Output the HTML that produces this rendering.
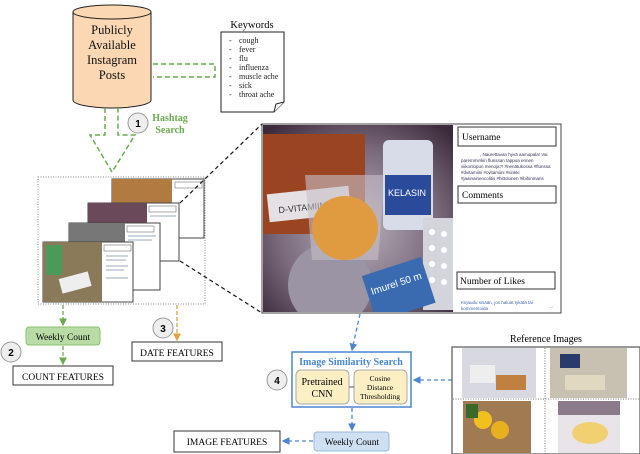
<!DOCTYPE html>
<html><head><meta charset="utf-8"><style>
html,body{margin:0;padding:0;background:#fff;}
svg{display:block;font-family:"Liberation Serif",serif;}
.s{font-family:"Liberation Sans",sans-serif;}
</style></head><body>
<svg width="640" height="454" viewBox="0 0 640 454" xmlns="http://www.w3.org/2000/svg">
<defs>
<radialGradient id="ph" cx="0.5" cy="0.55" r="0.7"><stop offset="0" stop-color="#b8b0bc"/><stop offset="0.6" stop-color="#7a6a7c"/><stop offset="1" stop-color="#3a2a3a"/></radialGradient>
<clipPath id="pc"><rect x="263" y="125" width="190" height="187"/></clipPath>
<marker id="ag" markerWidth="6" markerHeight="6" refX="5" refY="3" orient="auto"><path d="M0,0L6,3L0,6z" fill="#6aaa50"/></marker>
<marker id="ao" markerWidth="6" markerHeight="6" refX="5" refY="3" orient="auto"><path d="M0,0L6,3L0,6z" fill="#e0a040"/></marker>
<marker id="ab" markerWidth="6" markerHeight="6" refX="5" refY="3" orient="auto"><path d="M0,0L6,3L0,6z" fill="#4a86d0"/></marker>
</defs>
<!-- cylinder -->
<path d="M73,12 L73,100 A39,8 0 0 0 151,100 L151,12" fill="#fbd7b3" stroke="#222" stroke-width="1"/>
<ellipse cx="112" cy="12" rx="39" ry="7" fill="#fbd7b3" stroke="#222"/>
<g font-size="12.5" text-anchor="middle" fill="#111">
<text x="112" y="34">Publicly</text><text x="112" y="49">Available</text><text x="112" y="64">Instagram</text><text x="112" y="79">Posts</text></g>
<!-- keywords -->
<text x="252" y="28" font-size="10.5" text-anchor="middle">Keywords</text>
<path d="M221,32 L284,32 L284,102 L274,112 L221,112 Z" fill="#fff" stroke="#222"/>
<path d="M274,112 L276,104 L284,102" fill="#fff" stroke="#222"/>
<g font-size="8" fill="#222"><text x="229" y="43">-</text><text x="239" y="43">cough</text>
<text x="229" y="52">-</text><text x="239" y="52">fever</text>
<text x="229" y="61">-</text><text x="239" y="61">flu</text>
<text x="229" y="70">-</text><text x="239" y="70">influenza</text>
<text x="229" y="79">-</text><text x="239" y="79">muscle ache</text>
<text x="229" y="88">-</text><text x="239" y="88">sick</text>
<text x="229" y="97">-</text><text x="239" y="97">throat ache</text></g>
<!-- green dashed -->
<g stroke="#6aaa50" stroke-width="1.5" stroke-dasharray="5,3" fill="none">
<path d="M153,64 L215,64 L215,77 L153,77"/>
<path d="M105,108 L105,135 L90,135 L112,172 L135,135 L118,135 L118,108"/>
</g>
<circle cx="138" cy="123" r="10" fill="#eee" stroke="#999"/>
<text x="138" y="127" font-size="10" font-weight="bold" text-anchor="middle" class="s">1</text>
<text x="170" y="121" font-size="10" font-weight="bold" fill="#6aaa50" text-anchor="middle">Hashtag</text>
<text x="170" y="133" font-size="10" font-weight="bold" fill="#6aaa50" text-anchor="middle">Search</text>
<!-- dotted box -->
<rect x="38" y="177" width="167" height="127" fill="none" stroke="#888" stroke-dasharray="1,1.5"/>
<!-- cards -->
<g stroke="#444" stroke-width="1">
<rect x="112" y="179" width="92" height="59" fill="#fff"/><rect x="112" y="179" width="60" height="59" fill="#b07a40" stroke="none"/>
<rect x="88" y="203" width="91" height="58" fill="#fff"/><rect x="88" y="203" width="59" height="40" fill="#6a4a5a" stroke="none"/>
<rect x="69" y="223" width="91" height="67" fill="#fff"/><rect x="69" y="223" width="56" height="20" fill="#777" stroke="none"/>
<rect x="43" y="242" width="90" height="60" fill="#fff"/><rect x="43" y="242" width="59" height="60" fill="#8a7a5a" stroke="none"/>
</g>
<rect x="46" y="245" width="16" height="30" fill="#4a9a5a"/><rect x="60" y="275" width="30" height="15" fill="#eee" transform="rotate(-15 75 282)"/>
<g fill="#fff" stroke="#555" stroke-width="0.5"><rect x="175" y="182" width="27" height="6"/><rect x="149" y="206" width="27" height="6"/><rect x="127" y="226" width="27" height="6"/><rect x="104" y="245" width="27" height="6"/></g>
<g stroke="#9ab" stroke-width="1"><path d="M106,256h22M106,260h20M106,266h22M106,270h18M106,278h22M128,236h28M128,240h24M150,216h26"/></g>
<!-- black dashed to photo -->
<g stroke="#111" stroke-width="1.2" stroke-dasharray="4,3"><path d="M180,203 L262,124"/><path d="M180,261 L262,313"/></g>
<!-- big photo -->
<rect x="262" y="124" width="299" height="189" fill="#fff" stroke="#444"/>
<g clip-path="url(#pc)">
<rect x="263" y="125" width="190" height="187" fill="url(#ph)"/>
<circle cx="330" cy="285" r="42" fill="#9a94a4"/>
<rect x="263" y="134" width="102" height="100" fill="#9a4422"/>
<rect x="268" y="190" width="82" height="28" fill="#e4e0e4" transform="rotate(-6 309 204)"/>
<text x="278" y="210" font-size="9" fill="#333" transform="rotate(-6 309 204)" class="s">D-VITAMIINI 50 µg</text>
<path d="M305,175 L385,175 L378,260 L312,260 Z" fill="#c8c0c8" opacity="0.6"/>
<ellipse cx="345" cy="228" rx="33" ry="32" fill="#e09a40"/>
<rect x="383" y="140" width="50" height="90" rx="6" fill="#d8dce8"/>
<rect x="385" y="175" width="46" height="40" fill="#2a4a9a"/>
<text x="388" y="196" font-size="9" fill="#fff" class="s">KELASIN</text>
<rect x="423" y="218" width="30" height="92" fill="#d4d4dc"/>
<g fill="#fff"><circle cx="432" cy="232" r="3"/><circle cx="444" cy="234" r="3"/><circle cx="432" cy="248" r="3"/><circle cx="444" cy="250" r="3"/><circle cx="432" cy="264" r="3"/><circle cx="444" cy="266" r="3"/><circle cx="432" cy="280" r="3"/><circle cx="444" cy="282" r="3"/></g>
<rect x="368" y="265" width="62" height="48" fill="#3a6ab0" transform="rotate(-18 400 290)"/>
<text x="372" y="286" font-size="10" fill="#fff" transform="rotate(-18 400 290)" class="s">Imurel 50 m</text>
</g>
<g fill="#fff" stroke="#333"><rect x="458" y="127" width="98" height="19"/><rect x="458" y="186" width="98" height="17"/><rect x="457" y="272" width="98" height="17"/></g>
<g font-size="9.5"><text x="462" y="140">Username</text><text x="462" y="198">Comments</text><text x="460" y="284">Number of Likes</text></g>
<g font-size="4.5" fill="#335" class="s"><text x="480" y="156">, Naurettavan hyvä aamupala! Vai</text><text x="461" y="162">paremminkin flunssan tappoa ennen</text><text x="461" y="168">viikonlopun menoja?! #nenätukossa #flunssa</text><text x="461" y="174">#dvitamiini #cvitamiini #sinkki</text><text x="461" y="180">#jaainainencolitis #hittolonen #ibihinmaris</text>
<text x="461" y="304" fill="#46a">Kirjaudu sisään, jos haluat tykätä tai</text><text x="461" y="310" fill="#46a">kommentoida</text><text x="549" y="308">…</text></g>
<!-- green flow bottom-left -->
<g stroke="#6aaa50" stroke-width="1.3" stroke-dasharray="4,2" fill="none">
<path d="M63,305 L63,325" marker-end="url(#ag)"/><path d="M63,346 L63,364" marker-end="url(#ag)"/></g>
<rect x="26" y="327" width="74" height="18" rx="3" fill="#b9dca6" stroke="#8cc070"/>
<text x="63" y="340" font-size="9.5" text-anchor="middle">Weekly Count</text>
<rect x="13" y="366" width="100" height="19" fill="#fff" stroke="#333"/>
<text x="63" y="380" font-size="9.5" text-anchor="middle">COUNT FEATURES</text>
<circle cx="11" cy="352" r="10" fill="#eee" stroke="#999"/>
<text x="11" y="356" font-size="10" font-weight="bold" text-anchor="middle" class="s">2</text>
<path d="M177,305 L177,340" stroke="#e0a040" stroke-width="1.3" stroke-dasharray="4,2" marker-end="url(#ao)"/>
<rect x="132" y="342" width="90" height="19" fill="#fff" stroke="#333"/>
<text x="177" y="356" font-size="9.5" text-anchor="middle">DATE FEATURES</text>
<circle cx="163" cy="328" r="10" fill="#eee" stroke="#999"/>
<text x="163" y="332" font-size="10" font-weight="bold" text-anchor="middle" class="s">3</text>
<!-- blue flow -->
<g stroke="#4a86d0" stroke-width="1.3" stroke-dasharray="4,3" fill="none">
<path d="M360,314 L352,350" marker-end="url(#ab)"/>
<path d="M452,380 L414,380" marker-end="url(#ab)"/>
<path d="M352,408 L352,430" marker-end="url(#ab)"/>
<path d="M313,441 L283,441" marker-end="url(#ab)"/></g>
<rect x="292" y="352" width="119" height="55" fill="#fff" stroke="#4a86d0" stroke-width="1.5"/>
<text x="351" y="365" font-size="10" font-weight="bold" fill="#4a86d0" text-anchor="middle">Image Similarity Search</text>
<rect x="296" y="370" width="53" height="34" rx="5" fill="#fcefc4" stroke="#aaa"/>
<rect x="354" y="370" width="53" height="34" rx="5" fill="#fcefc4" stroke="#aaa"/>
<path d="M349,387 L354,387" stroke="#555"/>
<text x="322" y="385" font-size="10" text-anchor="middle">Pretrained</text><text x="322" y="397" font-size="10" text-anchor="middle">CNN</text>
<g font-size="7.5" text-anchor="middle"><text x="380" y="381">Cosine</text><text x="380" y="390">Distance</text><text x="380" y="399">Thresholding</text></g>
<circle cx="277" cy="380" r="10" fill="#eee" stroke="#999"/>
<text x="277" y="384" font-size="10" font-weight="bold" text-anchor="middle" class="s">4</text>
<rect x="314" y="432" width="75" height="19" rx="3" fill="#cfe0f2" stroke="#9ab8d8"/>
<text x="352" y="445" font-size="9.5" text-anchor="middle">Weekly Count</text>
<rect x="174" y="431" width="106" height="21" fill="#fff" stroke="#333"/>
<text x="227" y="445" font-size="9.5" text-anchor="middle">IMAGE FEATURES</text>
<!-- reference images -->
<text x="546" y="342" font-size="10" text-anchor="middle">Reference Images</text>
<rect x="452" y="347" width="188" height="107" fill="#fff" stroke="#555" stroke-width="1.2"/>
<path d="M545,348 L545,454 M453,399 L640,399" stroke="#777" stroke-dasharray="1,1.5"/>
<rect x="462" y="348" width="74" height="50" fill="#d8d8e0"/><rect x="470" y="365" width="25" height="18" fill="#eee"/><rect x="496" y="375" width="30" height="15" fill="#c08040"/>
<rect x="550" y="348" width="77" height="50" fill="#c8c0b0"/><rect x="560" y="354" width="20" height="14" fill="#2a3a6a"/><rect x="565" y="375" width="40" height="15" fill="#e0d8c0"/>
<rect x="463" y="401" width="68" height="52" fill="#a07a50"/><circle cx="483" cy="420" r="9" fill="#f0c020"/><circle cx="500" cy="430" r="9" fill="#e8b020"/><rect x="466" y="404" width="12" height="14" fill="#3a6a2a"/>
<rect x="558" y="401" width="62" height="52" fill="#e8e4ea"/><rect x="558" y="401" width="62" height="14" fill="#8a7a8a"/><ellipse cx="590" cy="433" rx="18" ry="11" fill="#f0d070"/>
</svg>
</body></html>
